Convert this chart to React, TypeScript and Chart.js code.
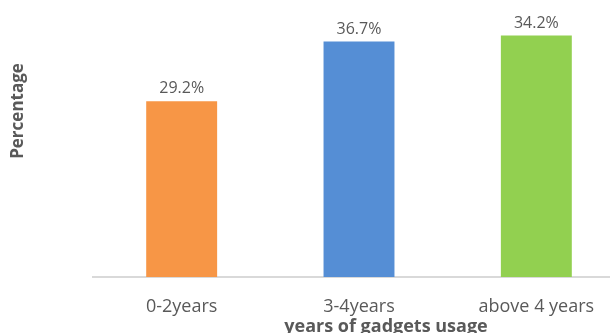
import React, { useEffect, useRef } from "react";
import { Chart, registerables } from "chart.js";

Chart.register(...registerables);

const categories = ["0-2years", "3-4years", "above 4 years"];
// bar heights (percentage units)
const barValues = [29.2, 39.1, 40.1];
// value labels as printed above the bars
const valueLabels = ["29.2%", "36.7%", "34.2%"];
const barColors = ["#F79646", "#558ED5", "#92D050"];
const xTitle = "years of gadgets usage";
const yTitle = "Percentage";

const FONT = "'Open Sans', 'DejaVu Sans', sans-serif";

const textPlugin = {
  id: "textPlugin",
  afterDatasetsDraw(chart: any) {
    const ctx = chart.ctx;
    const meta = chart.getDatasetMeta(0);
    ctx.save();
    ctx.fillStyle = "#595959";
    ctx.font = `16px ${FONT}`;
    ctx.textAlign = "center";
    ctx.textBaseline = "alphabetic";
    meta.data.forEach((bar: any, i: number) => {
      ctx.fillText(valueLabels[i], bar.x, bar.y - 8);
    });
    // x axis title
    ctx.font = `bold 18px ${FONT}`;
    ctx.fillText(xTitle, 386, 332);
    // y axis title
    ctx.translate(18, 111);
    ctx.rotate(-Math.PI / 2);
    ctx.textBaseline = "middle";
    ctx.font = `bold 17px ${FONT}`;
    ctx.fillText(yTitle, 0, 0);
    ctx.restore();
  },
};

export default function App() {
  const ref = useRef<HTMLCanvasElement>(null);
  useEffect(() => {
    if (!ref.current) return;
    const chart = new Chart(ref.current, {
      type: "bar",
      data: {
        labels: categories,
        datasets: [
          {
            data: barValues,
            backgroundColor: barColors,
            borderWidth: 0,
            barPercentage: 0.8,
            categoryPercentage: 0.5,
          },
        ],
      },
      options: {
        responsive: false,
        animation: false,
        devicePixelRatio: 1,
        layout: { padding: { left: 93, right: 0, top: 0, bottom: 0 } },
        plugins: { legend: { display: false }, tooltip: { enabled: false } },
        scales: {
          x: {
            grid: { display: false, drawTicks: false },
            border: { display: true, color: "#D9D9D9", width: 2 },
            ticks: {
              color: "#595959",
              font: { family: FONT, size: 18 },
              padding: 19,
            },
            afterFit: (s: any) => {
              s.height = 56;
            },
          },
          y: {
            display: false,
            min: 0,
            max: 46,
          },
        },
      },
      plugins: [textPlugin],
    });
    return () => chart.destroy();
  }, []);
  return (
    <div
      style={{
        position: "absolute",
        left: 0,
        top: 0,
        width: 610,
        height: 333,
        overflow: "hidden",
        background: "#fff",
      }}
    >
      <canvas ref={ref} width={625} height={333} style={{ display: "block" }} />
    </div>
  );
}
